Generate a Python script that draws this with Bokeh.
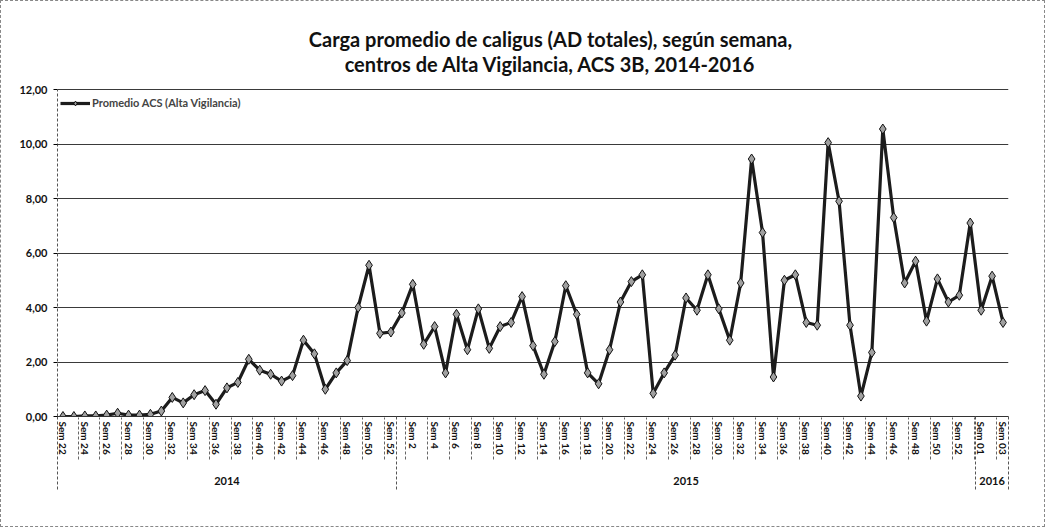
from bokeh.plotting import figure
from bokeh.models import Range1d, FixedTicker, LinearAxis, Label, Legend, LegendItem
from bokeh.embed import file_html
from bokeh.resources import INLINE

# ---- data ----
years = ["2014", "2015", "2016"]
weeks_2014 = ["Sem 22", "Sem 23", "Sem 24", "Sem 25", "Sem 26", "Sem 27", "Sem 28", "Sem 29",
              "Sem 30", "Sem 31", "Sem 32", "Sem 33", "Sem 34", "Sem 35", "Sem 36", "Sem 37",
              "Sem 38", "Sem 39", "Sem 40", "Sem 41", "Sem 42", "Sem 43", "Sem 44", "Sem 45",
              "Sem 46", "Sem 47", "Sem 48", "Sem 49", "Sem 50", "Sem 51", "Sem 52"]
weeks_2015 = ["Sem 1", "Sem 2", "Sem 3", "Sem 4", "Sem 5", "Sem 6", "Sem 7", "Sem 8", "Sem 9",
              "Sem 10", "Sem 11", "Sem 12", "Sem 13", "Sem 14", "Sem 15", "Sem 16", "Sem 17",
              "Sem 18", "Sem 19", "Sem 20", "Sem 21", "Sem 22", "Sem 23", "Sem 24", "Sem 25",
              "Sem 26", "Sem 27", "Sem 28", "Sem 29", "Sem 30", "Sem 31", "Sem 32", "Sem 33",
              "Sem 34", "Sem 35", "Sem 36", "Sem 37", "Sem 38", "Sem 39", "Sem 40", "Sem 41",
              "Sem 42", "Sem 43", "Sem 44", "Sem 45", "Sem 46", "Sem 47", "Sem 48", "Sem 49",
              "Sem 50", "Sem 51", "Sem 52", "Sem 53"]
weeks_2016 = ["Sem 01", "Sem 02", "Sem 03"]

values_2014 = [0.00, 0.00, 0.02, 0.02, 0.05, 0.12, 0.05, 0.05, 0.08, 0.20, 0.70, 0.50, 0.80,
               0.95, 0.45, 1.05, 1.25, 2.10, 1.70, 1.55, 1.30, 1.50, 2.80, 2.30, 1.00, 1.60,
               2.05, 4.00, 5.55, 3.05, 3.10]
values_2015 = [3.80, 4.85, 2.65, 3.30, 1.60, 3.75, 2.45, 3.95, 2.50, 3.30, 3.45, 4.40, 2.60,
               1.55, 2.75, 4.80, 3.75, 1.60, 1.20, 2.45, 4.20, 4.95, 5.20, 0.85, 1.60, 2.25,
               4.35, 3.90, 5.20, 3.95, 2.80, 4.90, 9.45, 6.75, 1.45, 5.00, 5.20, 3.45, 3.35,
               10.05, 7.90, 3.35, 0.75, 2.35, 10.55, 7.30, 4.90, 5.70, 3.50, 5.05, 4.20, 4.45,
               7.10]
values_2016 = [3.90, 5.15, 3.45]

series_name = "Promedio ACS (Alta Vigilancia)"
title_line1 = "Carga promedio de caligus (AD totales), según semana,"
title_line2 = "centros de Alta Vigilancia, ACS 3B, 2014-2016"
y_ticks = [0, 2, 4, 6, 8, 10, 12]
y_labels = ["0,00", "2,00", "4,00", "6,00", "8,00", "10,00", "12,00"]

# ---- derived ----
week_labels = weeks_2014 + weeks_2015 + weeks_2016
values = values_2014 + values_2015 + values_2016
xs = list(range(len(values)))
n14, n15, n16 = len(weeks_2014), len(weeks_2015), len(weeks_2016)
bounds = [-0.5, n14 - 0.5, n14 + n15 - 0.5, n14 + n15 + n16 - 0.5]
centers = [(bounds[i] + bounds[i + 1]) / 2 for i in range(3)]
even = [i for i in xs if i % 2 == 0]
week_seps = [float(i) + 1.38 for i in even[:-1]]

FONT = "Lato"
PLOT_H = 327        # pixel height of the 0..12 value band
FRAME_H = 406       # frame also holds the title band above it
y_max = y_ticks[-1]

p = figure(frame_width=951, frame_height=FRAME_H, output_backend="svg", toolbar_location=None,
           x_range=Range1d(-0.5, len(values) - 0.5),
           y_range=Range1d(0, y_max * FRAME_H / PLOT_H),
           min_border_left=56, min_border_right=36, min_border_top=9, min_border_bottom=110,
           background_fill_color="white", border_fill_color="white")
p.outline_line_color = None
p.xgrid.visible = False
p.ygrid.ticker = FixedTicker(ticks=y_ticks[1:])
p.ygrid.grid_line_color = "#3a3a3a"
p.ygrid.grid_line_width = 1

# titles (screen px from the frame's lower-left corner)
for txt, ypos in ((title_line1, 378), (title_line2, 353)):
    p.add_layout(Label(x=493, y=ypos, x_units="screen", y_units="screen", text=txt,
                       text_align="center", text_baseline="middle", text_font=FONT,
                       text_font_size="20px", text_font_style="bold", text_color="#111"))

# y axis
ya = p.yaxis[0]
ya.ticker = FixedTicker(ticks=y_ticks)
ya.bounds = (0, y_max)
ya.major_label_overrides = {t: l for t, l in zip(y_ticks, y_labels)}
ya.major_label_text_font = FONT
ya.major_label_text_font_style = "bold"
ya.major_label_text_font_size = "11px"
ya.major_label_text_color = "#111"
ya.major_tick_in = 0
ya.major_tick_out = 4
ya.minor_tick_line_color = None
ya.axis_line_color = "#555"
ya.axis_line_dash = "3 2"
ya.major_label_standoff = 6

# x axis (weeks)
xa = p.xaxis[0]
xa.ticker = FixedTicker(ticks=even)
xa.major_label_overrides = {i: week_labels[i] for i in even}
xa.major_label_orientation = "vertical"
xa.major_label_text_font = FONT
xa.major_label_text_font_style = "bold"
xa.major_label_text_font_size = "10px"
xa.major_label_text_color = "#111"
xa.major_tick_line_color = None
xa.major_tick_in = 0
xa.major_tick_out = 2
xa.major_label_standoff = 3
xa.minor_tick_line_color = None
xa.minor_tick_in = 0
xa.minor_tick_out = 0
xa.axis_line_color = "#333"

# empty axis whose minor ticks are the week-label separators
xw_sep = LinearAxis(ticker=FixedTicker(ticks=[], minor_ticks=week_seps))
xw_sep.axis_line_color = None
xw_sep.major_tick_line_color = None
xw_sep.major_tick_out = 0
xw_sep.major_tick_in = 0
xw_sep.minor_tick_in = 40
xw_sep.minor_tick_out = 2
xw_sep.minor_tick_line_color = "#666"
xw_sep.minor_tick_line_width = 1
xw_sep.minor_tick_line_dash = "3 2"
p.add_layout(xw_sep, "below")

# x axis (years)
xy = LinearAxis(ticker=FixedTicker(ticks=centers),
                major_label_overrides={c: y for c, y in zip(centers, years)})
xy.axis_line_color = None
xy.major_tick_line_color = None
xy.minor_tick_line_color = None
xy.major_tick_out = 0
xy.major_tick_in = 0
xy.minor_tick_out = 0
xy.minor_tick_in = 0
xy.major_label_standoff = 17
xy.major_label_text_font = FONT
xy.major_label_text_font_style = "bold"
xy.major_label_text_font_size = "11px"
xy.major_label_text_color = "#111"
p.add_layout(xy, "below")

# empty axis whose minor ticks are the year separators
xs_sep = LinearAxis(ticker=FixedTicker(ticks=[], minor_ticks=bounds))
xs_sep.axis_line_color = None
xs_sep.major_tick_line_color = None
xs_sep.major_tick_out = 0
xs_sep.major_tick_in = 0
xs_sep.minor_tick_in = 73
xs_sep.minor_tick_out = 2
xs_sep.minor_tick_line_color = "#555"
xs_sep.minor_tick_line_dash = "3 2"
p.add_layout(xs_sep, "below")

# series
ln = p.line(xs, values, line_color="#1c1c1c", line_width=3.2)
mk = p.scatter(xs, values, marker="diamond", size=10, fill_color="#a0a0a0",
               line_color="#111", line_width=1)

legend = Legend(items=[LegendItem(label=series_name, renderers=[ln, mk])],
                location=(3, 307), border_line_color=None, background_fill_alpha=0,
                label_text_font=FONT, label_text_font_style="bold", label_text_font_size="11px",
                glyph_width=30, glyph_height=12, label_standoff=2, padding=2, margin=0,
                label_height=12)
p.add_layout(legend)

p.styles = {"border": "1px dashed #888"}

open("out.html", "w").write(file_html(p, INLINE))
